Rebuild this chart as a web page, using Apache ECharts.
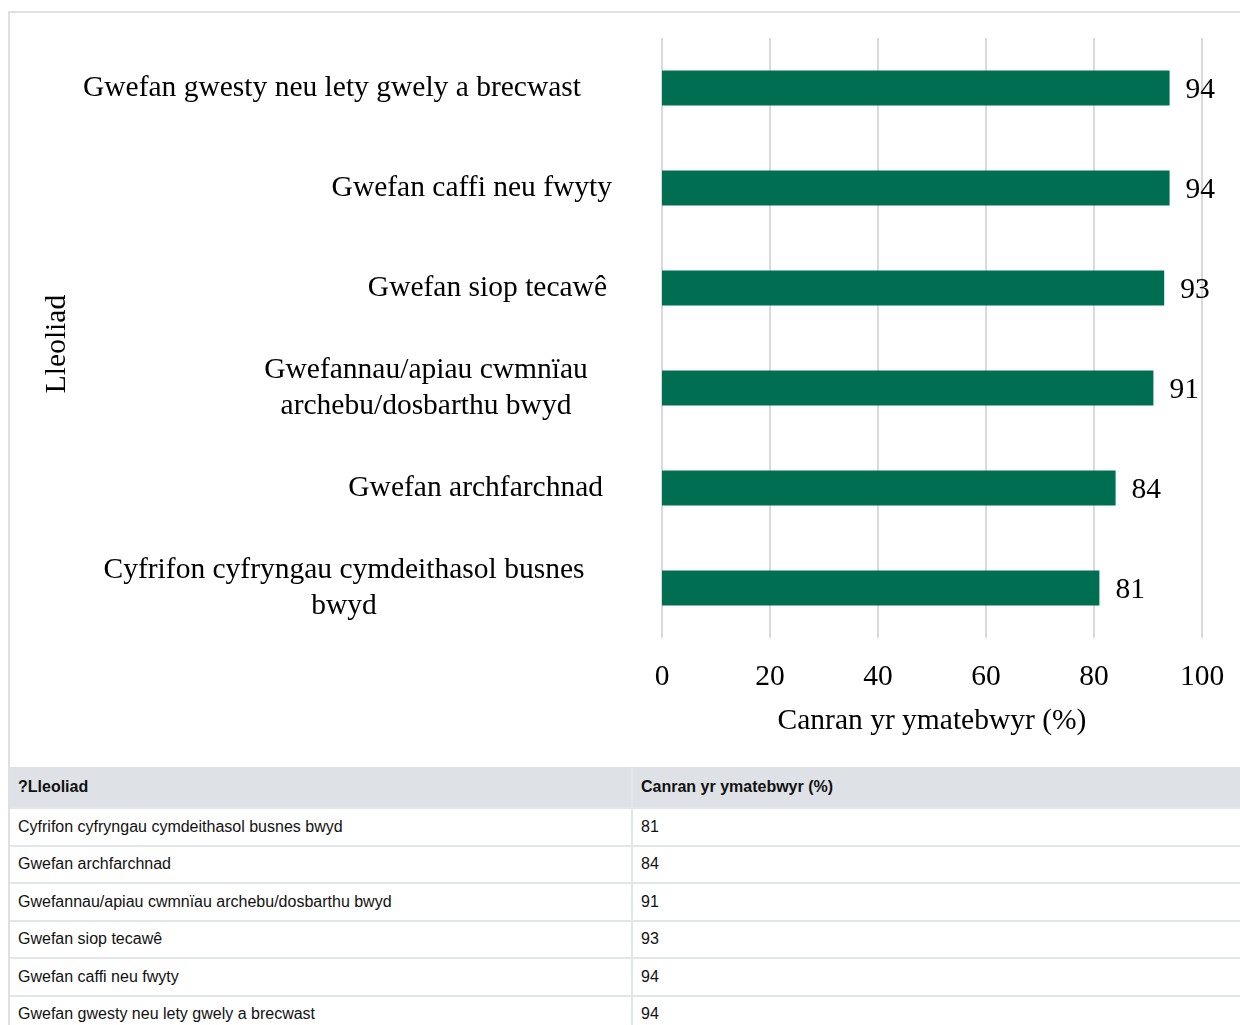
<!DOCTYPE html>
<html>
<head>
<meta charset="utf-8">
<script src="https://cdn.jsdelivr.net/npm/echarts@6/dist/echarts.min.js"></script>
<style>
  html, body { margin: 0; padding: 0; background: #fff; overflow: hidden; }
  #frame { position: absolute; left: 8px; top: 11px; width: 1300px; height: 1100px; border: 2px solid #e0e0e0; box-sizing: border-box; }
  #chart { position: absolute; left: 0; top: 0; width: 1240px; height: 766px; }
  #tbl { position: absolute; left: 10px; top: 767px; width: 1300px; border-collapse: collapse; font-family: "Liberation Sans", Arial, sans-serif; font-size: 16px; color: #111; }
  #tbl th { background: #dee2e6; font-weight: bold; text-align: left; height: 40px; padding: 0 8px; }
  #tbl td { height: 35.5px; padding: 0 8px; border-top: 2px solid #e3e6e9; }
  #tbl td:first-child, #tbl th:first-child { width: 605px; border-right: 2px solid #e3e6e9; }
</style>
</head>
<body>
<div id="frame"></div>
<div id="chart"></div>
<table id="tbl"><thead><tr><th id="h1"></th><th id="h2"></th></tr></thead><tbody id="tb"></tbody></table>
<script>
const categories = [
  "Cyfrifon cyfryngau cymdeithasol busnes bwyd",
  "Gwefan archfarchnad",
  "Gwefannau/apiau cwmnïau archebu/dosbarthu bwyd",
  "Gwefan siop tecawê",
  "Gwefan caffi neu fwyty",
  "Gwefan gwesty neu lety gwely a brecwast"
];
const axisLabels = [
  "Cyfrifon cyfryngau cymdeithasol busnes\nbwyd",
  "Gwefan archfarchnad",
  "Gwefannau/apiau cwmnïau\narchebu/dosbarthu bwyd",
  "Gwefan siop tecawê",
  "Gwefan caffi neu fwyty",
  "Gwefan gwesty neu lety gwely a brecwast"
];
const values = [81, 84, 91, 93, 94, 94];
const xTicks = [0, 20, 40, 60, 80, 100];
const yTitle = "Lleoliad";
const xTitle = "Canran yr ymatebwyr (%)";
const tableHeaders = ["?Lleoliad", "Canran yr ymatebwyr (%)"];

// label placement (visual layout only): single lines right-aligned to an edge, wrapped ones centred
const labelAlign = ['center', 'right', 'center', 'right', 'right', 'right'];
const labelPos = [344, 603, 426, 607, 612, 581];
const anchorX = 622;

const chart = echarts.init(document.getElementById('chart'));
const serif = '"Liberation Serif", "Times New Roman", serif';
const FS = 29.5;
chart.setOption({
  animation: false,
  grid: { left: 662, top: 38, width: 540, height: 600, containLabel: false, outerBoundsMode: 'none' },
  xAxis: {
    type: 'value', min: 0, max: 100, interval: 20,
    name: xTitle, nameLocation: 'middle', nameGap: 68, nameMoveOverlap: false,
    nameTextStyle: { fontFamily: serif, fontSize: FS, color: '#000' },
    axisLine: { show: false }, axisTick: { show: false },
    axisLabel: { fontFamily: serif, fontSize: FS, color: '#000', margin: 24,
      formatter: v => xTicks.includes(v) ? String(v) : '' },
    splitLine: { show: true, lineStyle: { color: '#d9d9d9', width: 2 } }
  },
  yAxis: {
    type: 'category',
    data: axisLabels.map((t, i) => ({
      value: t,
      textStyle: {
        align: labelAlign[i],
        padding: [8, labelAlign[i] === 'center' ? 2 * (anchorX - labelPos[i]) : (anchorX - labelPos[i]), 0, 0]
      }
    })),
    name: yTitle, nameLocation: 'middle', nameGap: 590, nameRotate: 90, nameMoveOverlap: false,
    nameTextStyle: { fontFamily: serif, fontSize: FS, color: '#000', padding: [0, 12, 0, 0] },
    axisLine: { show: false }, axisTick: { show: false },
    axisLabel: { fontFamily: serif, fontSize: FS, color: '#000', margin: 662 - anchorX, lineHeight: 36 },
    splitLine: { show: false }
  },
  series: [{
    type: 'bar', data: values, barWidth: 35,
    itemStyle: { color: '#006e51' },
    label: { show: true, position: 'right', distance: 16, offset: [0, 2], fontFamily: serif, fontSize: FS, color: '#000' }
  }]
});

document.getElementById('h1').textContent = tableHeaders[0];
document.getElementById('h2').textContent = tableHeaders[1];
const tb = document.getElementById('tb');
categories.forEach((c, i) => {
  const tr = document.createElement('tr');
  const a = document.createElement('td'); a.textContent = c;
  const b = document.createElement('td'); b.textContent = values[i];
  tr.appendChild(a); tr.appendChild(b); tb.appendChild(tr);
});
</script>
</body>
</html>
